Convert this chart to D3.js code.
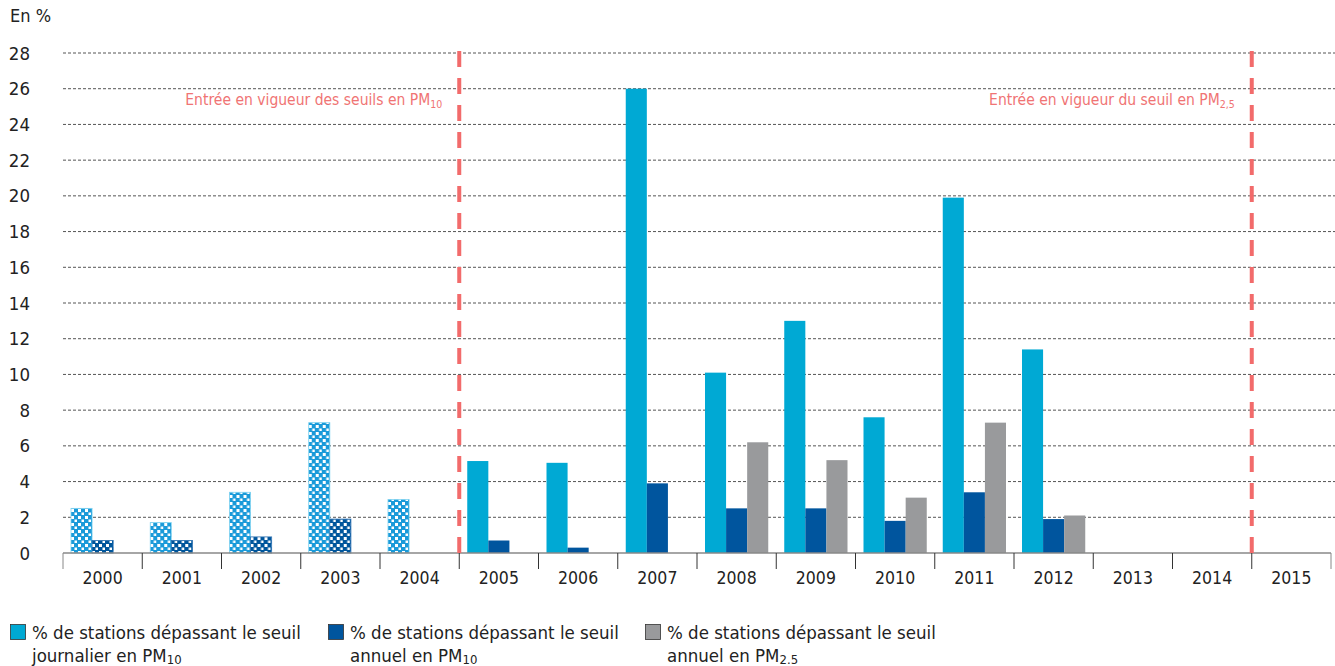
<!DOCTYPE html>
<html>
<head>
<meta charset="utf-8">
<script src="https://cdn.jsdelivr.net/npm/d3@7"></script>
<style>
  body { margin: 0; background: #fff; }
  svg { font-family: "Liberation Sans Narrow", "DejaVu Sans Condensed", "Roboto", sans-serif; }
</style>
</head>
<body>
<div id="chart"></div>
<script>
const years = ["2000","2001","2002","2003","2004","2005","2006","2007","2008","2009","2010","2011","2012","2013","2014","2015"];
const journalierPM10 = [2.5, 1.7, 3.4, 7.3, 3.0, 5.15, 5.05, 26.0, 10.1, 13.0, 7.6, 19.9, 11.4, null, null, null];
const annuelPM10 = [0.7, 0.7, 0.9, 1.9, null, 0.7, 0.3, 3.9, 2.5, 2.5, 1.8, 3.4, 1.9, null, null, null];
const annuelPM25 = [null, null, null, null, null, null, null, null, 6.2, 5.2, 3.1, 7.3, 2.1, null, null, null];
const yTicks = [0, 2, 4, 6, 8, 10, 12, 14, 16, 18, 20, 22, 24, 26, 28];
const patternedYears = ["2000","2001","2002","2003","2004"];

const W = 1335, H = 666;
const margin = { top: 53, left: 63, right: 4, bottom: 113 };
const innerW = W - margin.left - margin.right;
const innerH = H - margin.top - margin.bottom;

const svg = d3.select("#chart").append("svg")
    .attr("width", W).attr("height", H);

const defs = svg.append("defs");
function checker(id, base) {
    const p = defs.append("pattern")
        .attr("id", id).attr("patternUnits", "userSpaceOnUse")
        .attr("width", 7).attr("height", 7);
    p.append("rect").attr("width", 7).attr("height", 7).attr("fill", base);
    p.append("rect").attr("x", 1).attr("y", 1).attr("width", 3).attr("height", 3).attr("fill", "#fff");
    p.append("rect").attr("x", 4.5).attr("y", 4.5).attr("width", 2.5).attr("height", 2.5).attr("fill", "#fff");
}
checker("patLight", "#1a9ad9");
checker("patDark", "#00569c");

const g = svg.append("g").attr("transform", `translate(${margin.left},${margin.top})`);

const x0 = d3.scaleBand().domain(years).range([0, innerW]).paddingInner(0).paddingOuter(0);
const series = ["j", "a", "p"];
const x1 = d3.scaleBand().domain(series).range([8, x0.bandwidth() - 8]).padding(0);
const y = d3.scaleLinear().domain([0, 28]).range([innerH, 0]);

// grid
g.append("g").selectAll("line").data(yTicks.filter(d => d > 0)).enter()
    .append("line")
    .attr("x1", 0).attr("x2", innerW + margin.right)
    .attr("y1", d => y(d)).attr("y2", d => y(d))
    .attr("stroke", "#555").attr("stroke-width", 1)
    .attr("stroke-dasharray", "3,2");

// y labels
svg.append("g").selectAll("text").data(yTicks).enter()
    .append("text")
    .attr("x", 30).attr("y", d => margin.top + y(d) + 6.5)
    .attr("text-anchor", "end")
    .style("font-size", "18.5px").attr("fill", "#222")
    .text(d => d);

svg.append("text").attr("x", 10).attr("y", 22)
    .style("font-size", "18px").attr("fill", "#222").text("En %");

// bars
const colorsSolid = { j: "#00a9d4", a: "#00559e", p: "#999a9c" };
const rows = years.map((yr, i) => ({
    year: yr,
    vals: [
        { key: "j", value: journalierPM10[i] },
        { key: "a", value: annuelPM10[i] },
        { key: "p", value: annuelPM25[i] }
    ]
}));

const groups = g.selectAll(".grp").data(rows).enter().append("g")
    .attr("transform", d => `translate(${x0(d.year)},0)`);

groups.each(function (d) {
    const patterned = patternedYears.includes(d.year);
    d3.select(this).selectAll("rect")
        .data(d.vals.filter(v => v.value != null)).enter()
        .append("rect")
        .attr("x", v => x1(v.key))
        .attr("y", v => y(v.value))
        .attr("width", x1.bandwidth())
        .attr("height", v => y(0) - y(v.value))
        .attr("fill", v => patterned ? (v.key === "j" ? "url(#patLight)" : "url(#patDark)") : colorsSolid[v.key])
        .attr("stroke", v => patterned ? (v.key === "j" ? "#7fd3f0" : "#2a6fb0") : "none")
        .attr("stroke-width", patterned ? 0.8 : 0);
});

// x axis
const axis = g.append("g").attr("transform", `translate(0,${innerH})`);
axis.append("line").attr("x1", 0).attr("x2", innerW).attr("y1", 0).attr("y2", 0)
    .attr("stroke", "#888").attr("stroke-width", 1.5);
axis.selectAll(".tick").data(years.concat(["end"])).enter().append("line")
    .attr("x1", (d, i) => i * x0.step()).attr("x2", (d, i) => i * x0.step())
    .attr("y1", 0).attr("y2", 16)
    .attr("stroke", (d, i) => (i === 0 || i === 16) ? "#888" : "#333").attr("stroke-width", 1);
axis.selectAll(".lbl").data(years).enter().append("text")
    .attr("x", d => x0(d) + x0.bandwidth() / 2)
    .attr("y", 31)
    .attr("text-anchor", "middle")
    .style("font-size", "17.5px").attr("fill", "#222")
    .text(d => d);

// red threshold lines
const thresholds = [
    { at: "2005", label: "Entrée en vigueur des seuils en PM", sub: "10" },
    { at: "2015", label: "Entrée en vigueur du seuil en PM", sub: "2,5" }
];
thresholds.forEach(t => {
    const xx = x0(t.at);
    g.append("line")
        .attr("x1", xx).attr("x2", xx).attr("y1", -2).attr("y2", innerH)
        .attr("stroke", "#f26b6b").attr("stroke-width", 4)
        .attr("stroke-dasharray", "16,11");
    const txt = g.append("text")
        .attr("x", xx - 17).attr("y", 52)
        .attr("text-anchor", "end")
        .attr("fill", "#f07474")
        .style("font-size", "15.5px");
    txt.append("tspan").text(t.label);
    txt.append("tspan").attr("dy", 3).style("font-size", "10.5px").text(t.sub);
});

// legend
const legendItems = [
    { color: "#00a9d4", l1: "% de stations dépassant le seuil", l2: "journalier en PM", sub: "10", x: 10 },
    { color: "#00559e", l1: "% de stations dépassant le seuil", l2: "annuel en PM", sub: "10", x: 328 },
    { color: "#999a9c", l1: "% de stations dépassant le seuil", l2: "annuel en PM", sub: "2.5", x: 645 }
];
const lg = svg.selectAll(".lg").data(legendItems).enter().append("g")
    .attr("transform", d => `translate(${d.x},624)`);
lg.append("rect").attr("x", 0.5).attr("y", 0.5).attr("width", 15).attr("height", 15)
    .attr("fill", d => d.color).attr("stroke", "#333").attr("stroke-width", 0.8);
lg.append("text").attr("x", 22).attr("y", 15)
    .style("font-size", "18.5px").attr("fill", "#222").text(d => d.l1);
const l2 = lg.append("text").attr("x", 22).attr("y", 38)
    .style("font-size", "18.5px").attr("fill", "#222");
l2.append("tspan").text(d => d.l2);
l2.append("tspan").attr("dy", 2).style("font-size", "13px").text(d => d.sub);
</script>
</body>
</html>
